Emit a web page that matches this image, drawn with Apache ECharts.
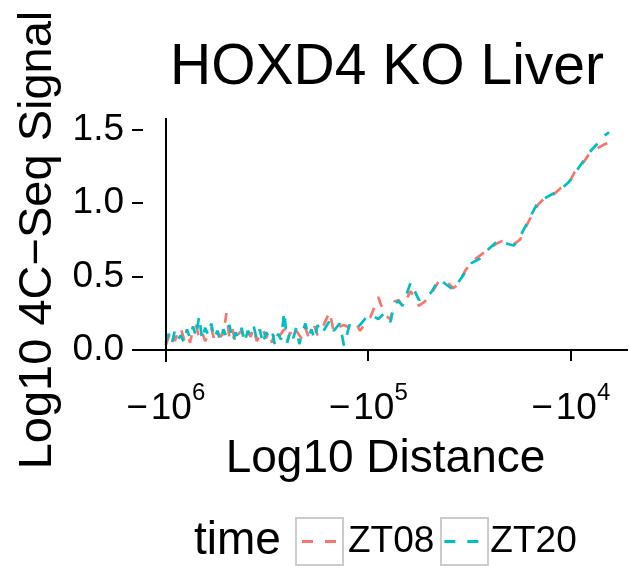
<!DOCTYPE html>
<html>
<head>
<meta charset="utf-8">
<script src="https://cdn.jsdelivr.net/npm/echarts@6/dist/echarts.min.js"></script>
<style>
  html, body { margin: 0; padding: 0; background: #fff; }
  #chart { width: 629px; height: 566px; }
</style>
</head>
<body>
<div id="chart"></div>
<script>
// x = -log10(distance), y = log10 4C-seq signal
const logDist = [
  -6.000, -5.985, -5.970, -5.955, -5.940, -5.925, -5.910, -5.895, -5.880, -5.865,
  -5.850, -5.835, -5.820, -5.805, -5.790, -5.775, -5.760, -5.745, -5.730, -5.715,
  -5.700, -5.685, -5.670, -5.655, -5.640, -5.625, -5.610, -5.595, -5.580, -5.565,
  -5.550, -5.535, -5.520, -5.505, -5.490, -5.475, -5.460, -5.445, -5.430, -5.415,
  -5.400, -5.385, -5.370, -5.355, -5.340, -5.325, -5.310, -5.295, -5.280, -5.265,
  -5.250, -5.235, -5.220,
  -5.19, -5.17, -5.14, -5.12, -5.09, -5.06, -5.04, -5.01, -4.99, -4.95,
  -4.92, -4.89, -4.87, -4.85, -4.83, -4.79, -4.75, -4.72, -4.69, -4.65,
  -4.61, -4.58, -4.56, -4.52, -4.49, -4.45, -4.41, -4.37, -4.34, -4.31,
  -4.28, -4.25, -4.22, -4.19, -4.16, -4.13, -4.09, -4.05, -4.01, -3.98,
  -3.94, -3.91, -3.87, -3.83, -3.81
]
const zt08 = [
  0.03, 0.09, 0.13, 0.06, 0.12, 0.15, 0.07, 0.11, 0.05, 0.14,
  0.17, 0.08, 0.12, 0.06, 0.10, 0.15, 0.07, 0.13, 0.09, 0.11,
  0.25, 0.08, 0.14, 0.05, 0.11, 0.13, 0.07, 0.12, 0.09, 0.15,
  0.06, 0.10, 0.14, 0.08, 0.12, 0.05, 0.13, 0.09, 0.11, 0.14,
  0.06, 0.12, 0.08, 0.13, 0.10, 0.07, 0.15, 0.09, 0.12, 0.16,
  0.10, 0.14, 0.17,
  0.26, 0.12, 0.16, 0.17, 0.15, 0.18, 0.13, 0.19, 0.22, 0.36,
  0.24, 0.21, 0.33, 0.34, 0.30, 0.40, 0.30, 0.33, 0.38, 0.47,
  0.46, 0.42, 0.44, 0.54, 0.60, 0.64, 0.68, 0.72, 0.74, 0.73,
  0.72, 0.75, 0.84, 0.92, 0.99, 1.03, 1.05, 1.10, 1.13, 1.21,
  1.27, 1.33, 1.37, 1.40, 1.41
]
const zt20 = [
  0.05, 0.11, 0.04, 0.13, 0.07, 0.10, 0.05, 0.14, 0.08, 0.16,
  0.09, 0.23, 0.07, 0.15, 0.10, 0.18, 0.08, 0.13, 0.06, 0.14,
  0.09, 0.17, 0.06, 0.12, 0.08, 0.15, 0.05, 0.13, 0.10, 0.16,
  0.07, 0.14, 0.04, 0.12, 0.09, 0.13, 0.03, 0.11, 0.07, 0.26,
  0.05, 0.13, 0.08, 0.15, 0.04, 0.12, 0.18, 0.09, 0.14, 0.07,
  0.17, 0.11, 0.13,
  0.20, 0.13, 0.18, 0.03, 0.18, 0.15, 0.17, 0.22, 0.24, 0.21,
  0.25, 0.19, 0.32, 0.33, 0.30, 0.46, 0.34, 0.36, 0.39, 0.48,
  0.44, 0.41, 0.45, 0.53, 0.59, 0.62, 0.68, 0.73, 0.74, 0.72,
  0.71, 0.77, 0.85, 0.93, 1.01, 1.03, 1.06, 1.09, 1.14, 1.20,
  1.28, 1.34, 1.40, 1.46, 1.48
]
const xTicks = [-6, -5, -4]
const yTicks = [0, 0.5, 1, 1.5]
const seriesNames = ['ZT08', 'ZT20']
const colors = ['#F8766D', '#00BFC4']

const font = '"Liberation Sans", Arial, sans-serif'
// two dashes, used as the legend key
const dashIcon = 'path://M0,0H11V3H0Z M23,0H34V3H23Z'
const chart = echarts.init(document.getElementById('chart'))

function lineSeries(name, values, i) {
  return {
    name: name,
    type: 'line',
    data: logDist.map((x, k) => [x, values[k]]),
    symbol: 'none',
    showSymbol: false,
    animation: false,
    lineStyle: { color: colors[i], width: 2.7, type: [11, 11] },
    itemStyle: { color: colors[i] },
    z: 3 + i
  }
}

const series = [lineSeries(seriesNames[0], zt08, 0), lineSeries(seriesNames[1], zt20, 1)]
// reference lines at y = 0 and x = -10^6
series[0].markLine = {
  silent: true,
  symbol: ['none', 'none'],
  label: { show: false },
  animation: false,
  lineStyle: { color: '#000', width: 2, type: 'solid' },
  data: [{ yAxis: 0 }, { xAxis: -6 }]
}

chart.setOption({
  backgroundColor: '#fff',
  animation: false,
  color: colors,
  title: {
    text: 'HOXD4 KO Liver',
    left: 387,
    top: 40,
    padding: 0,
    textAlign: 'center',
    textStyle: { fontFamily: font, fontSize: 57, fontWeight: 'normal', color: '#000' }
  },
  grid: { left: 143, right: 1, top: 118, bottom: 204, containLabel: false },
  xAxis: {
    type: 'value',
    min: -6.112,
    max: -3.717,
    name: 'Log10 Distance',
    nameLocation: 'middle',
    nameGap: 74,
    nameTextStyle: { fontFamily: font, fontSize: 46, color: '#000' },
    axisLine: { show: false },
    splitLine: { show: false },
    axisTick: {
      show: true, inside: false, length: 11,
      customValues: xTicks,
      lineStyle: { color: '#000', width: 2 }
    },
    axisLabel: {
      customValues: xTicks,
      margin: 19,
      formatter: v => '{m|−}{n|10}{e|' + Math.round(-v) + '}',
      rich: {
        m: { fontFamily: font, fontSize: 37, color: '#000', padding: [0, 3, 0, 0] },
        n: { fontFamily: font, fontSize: 37, color: '#000' },
        e: { fontFamily: font, fontSize: 24, color: '#000', padding: [0, 0, 32, 0] }
      }
    }
  },
  yAxis: {
    type: 'value',
    min: -0.082,
    max: 1.577,
    name: 'Log10 4C−Seq Signal',
    nameLocation: 'middle',
    nameRotate: 90,
    nameGap: 72,
    nameTextStyle: { fontFamily: font, fontSize: 47, color: '#000' },
    axisLine: { show: false },
    splitLine: { show: false },
    axisTick: {
      show: true, inside: false, length: 11,
      customValues: yTicks,
      lineStyle: { color: '#000', width: 2 }
    },
    axisLabel: {
      customValues: yTicks,
      margin: 19,
      fontFamily: font,
      fontSize: 37,
      color: '#000',
      formatter: v => v.toFixed(1)
    }
  },
  legend: {
    data: seriesNames.map(n => ({ name: n, icon: dashIcon })),
    left: 302,
    top: 523,
    padding: 0,
    itemWidth: 34,
    itemHeight: 3,
    itemGap: 10,
    selectedMode: false,
    textStyle: { fontFamily: font, fontSize: 37, color: '#000', padding: [0, 0, 0, 7] }
  },
  graphic: [
    {
      type: 'text', left: 194, top: 518, silent: true,
      style: { text: 'time', fontFamily: font, fontSize: 46, fill: '#000' }
    },
    {
      type: 'rect', shape: { x: 296, y: 518, width: 47, height: 47 }, silent: true,
      style: { fill: 'none', stroke: '#cccccc', lineWidth: 2 }
    },
    {
      type: 'rect', shape: { x: 441, y: 518, width: 47, height: 47 }, silent: true,
      style: { fill: 'none', stroke: '#cccccc', lineWidth: 2 }
    }
  ],
  series: series
})
</script>
</body>
</html>
